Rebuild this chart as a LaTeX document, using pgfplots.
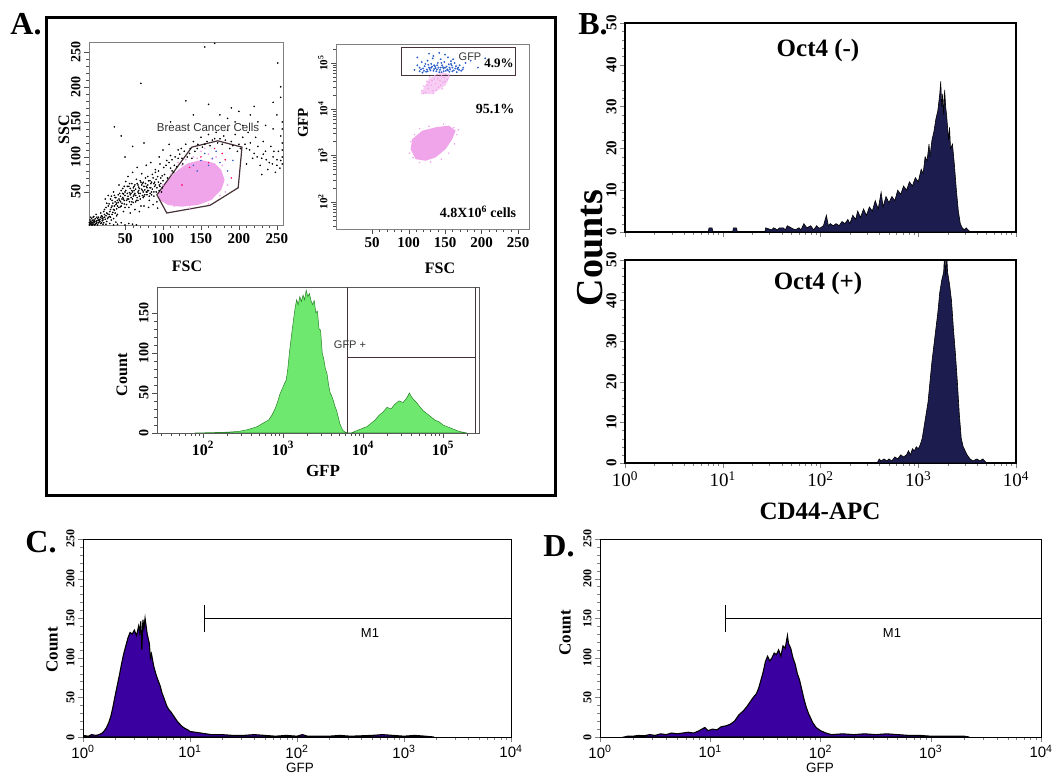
\documentclass[border=0pt]{standalone}
\usepackage{pgfplots}
\pgfplotsset{compat=1.18}
\usepackage{fontspec}
\setmainfont{Liberation Serif}
\setsansfont{Liberation Sans}
\newcommand\fs[1]{\fontsize{#1}{#1}\selectfont}
\definecolor{pinkc}{RGB}{240,165,235}
\definecolor{greenf}{RGB}{110,232,110}
\definecolor{greenl}{RGB}{40,130,40}
\definecolor{navy}{RGB}{28,28,78}
\definecolor{purp}{RGB}{58,0,160}
\definecolor{bluep}{RGB}{45,95,200}
\definecolor{gatec}{RGB}{70,50,55}
\pgfplotsset{
  base/.style={scale only axis, anchor=south west, tick align=outside, tick pos=left,
    major tick length=5pt, minor tick length=3pt,
    /pgf/number format/assume math mode=true},
  lmx/.style={minor xtick={0.301,0.477,0.602,0.699,0.778,0.845,0.903,0.954,
    1.301,1.477,1.602,1.699,1.778,1.845,1.903,1.954,
    2.301,2.477,2.602,2.699,2.778,2.845,2.903,2.954,
    3.301,3.477,3.602,3.699,3.778,3.845,3.903,3.954,
    4.301,4.477,4.602,4.699,4.778,4.845,4.903,4.954,
    5.301,5.477,5.602,5.699,5.778,5.845,5.903,5.954}},
  lmy/.style={minor ytick={1.477,1.602,1.699,1.778,1.845,1.903,1.954,
    2.301,2.477,2.602,2.699,2.778,2.845,2.903,2.954,
    3.301,3.477,3.602,3.699,3.778,3.845,3.903,3.954,
    4.301,4.477,4.602,4.699,4.778,4.845,4.903,4.954,
    5.301}},
  dot/.style={only marks, mark=*, mark size=0.55pt},
}
\begin{document}
\begin{tikzpicture}[x=1pt,y=1pt]
\path[use as bounding box] (0pt,0pt) rectangle (1062pt,779pt);
\draw[line width=3pt] (46pt,761pt) rectangle (555pt,283pt);

% ---------- A: SSC vs FSC
\begin{axis}[base, at={(89pt,554pt)}, width=194pt, height=183pt,
  xmin=2.6, xmax=258, ymin=2.9, ymax=264,
  xtick={50,100,150,200,250}, ytick={50,100,150,200,250},
  minor x tick num=4, minor y tick num=4,
  axis line style={gray}, tick style={gray!60!black},
  ticklabel style={font=\bfseries\fs{15}},
  yticklabel style={rotate=90, anchor=south, font=\bfseries\fs{14}}]
\addplot[dot, black, mark size=0.6pt] coordinates {
(4,4)(5,8)(6,3)(7,6)(8,10)(9,4)(10,7)(11,12)(12,5)(13,9)(14,3)(15,14)(16,7)(17,11)(18,5)
(19,16)(20,9)(21,13)(22,6)(23,18)(24,11)(25,4)(6,12)(9,15)(12,18)(15,6)(18,20)(21,4)(26,8)
(28,14)(30,5)(32,10)(35,3)(38,7)(40,4)(45,6)(50,3)(55,5)(60,4)(65,3)(5,5)(7,9)(10,3)(13,6)
(22,22)(25,28)(27,19)(29,33)(31,25)(33,38)(34,21)(36,30)(38,42)(39,26)(41,35)(43,48)(44,29)
(46,40)(47,55)(49,33)(50,45)(52,38)(53,58)(55,28)(56,49)(58,42)(59,62)(61,35)(62,52)(64,45)
(65,68)(67,38)(68,57)(70,48)(71,30)(73,62)(74,42)(76,53)(77,70)(79,46)(80,60)(82,38)(83,66)
(85,50)(86,75)(88,44)(89,58)(91,68)(92,36)(94,80)(95,52)(97,62)(99,73)(101,85)
(24,40)(28,45)(30,15)(35,50)(40,18)(42,60)(48,22)(51,65)(54,72)(57,20)(60,78)(63,25)(66,85)
(69,22)(72,76)(75,30)(78,88)(81,28)(84,92)(87,32)(90,82)(93,27)(96,90)(26,34)(32,44)(37,36)
(45,52)(48,47)(57,55)(60,50)(66,62)(70,66)(75,58)(80,72)(85,64)(90,78)(55,40)(62,58)(68,48)
(72,54)(78,50)(84,56)(44,36)(50,28)(58,32)(64,36)(35,25)(40,30)(47,42)(53,48)(59,52)(63,60)
(69,55)(74,64)(79,56)(83,48)(88,62)(36,45)(42,40)(49,58)(56,62)(61,44)(67,50)(73,45)(81,52)
(20,15)(23,25)(26,20)(28,30)(30,22)(32,28)(34,34)(36,24)(38,32)(40,38)(42,28)(44,44)(46,34)
(48,40)(50,50)(52,32)(54,44)(56,36)(58,48)(60,40)(62,46)(64,54)(66,42)(68,52)(70,40)(72,60)
(74,50)(76,46)(78,58)(80,52)(82,44)(84,62)(86,54)(88,50)(90,60)(92,56)(94,64)(96,58)(98,50)
(100,66)(31,40)(33,30)(37,42)(39,34)(41,46)(43,38)(45,30)(47,48)(49,38)(51,52)(53,40)(55,58)
(57,46)(59,36)(61,56)(63,48)(65,38)(67,60)(69,44)(71,64)(73,52)(75,44)(77,62)(79,50)(81,66)
(83,56)(85,46)(87,70)(89,64)(91,50)(93,72)(95,60)(97,70)(99,56)
(8,6)(10,10)(12,8)(14,12)(16,10)(18,14)(20,12)(11,4)(13,14)(15,10)(17,8)(19,6)(21,10)(23,14)
(25,16)(27,12)(29,18)(31,14)(33,18)(35,12)(37,20)(39,16)(3,6)(4,10)(5,14)(6,6)(7,3)(8,14)
(9,8)(3,3)(4,7)
(102,75)(104,88)(106,70)(108,92)(110,84)(112,96)(114,78)(116,100)(118,86)(120,98)(122,104)
(124,112)(126,90)(128,108)(132,100)(136,112)(138,98)(142,108)(146,118)(152,114)(158,122)
(162,116)(168,126)(172,120)(178,118)(182,124)(188,112)(192,116)(198,108)(202,112)(208,118)
(214,110)(218,98)(224,100)(232,104)(236,96)(244,90)(250,96)(254,84)(246,108)
(105,95)(110,102)(115,88)(120,110)(125,98)(130,118)(135,105)(140,122)(145,112)(150,128)
(155,118)(160,132)(165,124)(170,135)(175,126)(180,130)(185,138)(190,122)(195,132)(200,118)
(205,128)(210,112)(215,120)(220,105)(225,115)(230,98)(235,108)(240,92)(245,100)(250,88)
(255,95)(212,135)(222,128)(232,122)(242,115)(252,108)(228,88)(238,82)(248,78)(205,145)
(195,150)(185,155)(175,160)(215,160)(235,145)(245,140)(255,130)(225,150)(210,90)(230,75)
(155,257)(168,262)(71,205)(36,143)(251,234)(130,180)(140,160)(160,175)(190,170)(200,165)
(220,172)(245,178)(255,185)(110,150)(60,115)(50,100)(75,120)(45,130)(250,160)(255,200)
(257,120)(257,140)(257,110)(257,100)(257,150)(257,90)(100,110)(95,100)(108,118)(112,80)
};
\addplot[fill=pinkc, draw=none] coordinates {
(93.4,48.1)(106.6,67.1)(119.7,81.4)(132.9,91)(150.4,95.7)(168,91)(176.7,81.4)(181.2,67.1)
(176.7,52.9)(163.6,38.6)(146,31.4)(124.1,29)(106.6,31.4)(95.7,38.6)} -- cycle;
\addplot[dot, pinkc, mark size=0.7pt] coordinates {
(140,100)(150,108)(160,104)(130,96)(120,92)(170,100)(155,112)(145,98)(100,60)(98,45)
(110,75)(185,60)(182,50)(175,45)(115,30)(135,27)(160,33)(125,88)(165,97)(178,88)};
\addplot[dot, bluep] coordinates {
(155,105)(165,98)(150,95)(175,92)(160,88)(140,88)(185,80)(170,108)(145,80)(192,95)};
\addplot[dot, red!60!magenta] coordinates {
(168,112)(178,105)(160,92)(135,85)(190,70)(150,100)(182,96)(125,60)};
\addplot[gatec, line width=1.2pt] coordinates {
(92,46)(105,20)(162,31)(199,56)(204,114)(172,123)(138,114)} -- cycle;
\end{axis}

% ---------- A: GFP vs FSC
\begin{axis}[base, lmy, at={(336pt,550pt)}, width=193pt, height=185pt,
  xmin=0.5, xmax=265, ymin=1.41, ymax=5.41,
  xtick={50,100,150,200,250}, minor x tick num=4,
  ytick={2,3,4,5}, yticklabels={10\textsuperscript{2},10\textsuperscript{3},10\textsuperscript{4},10\textsuperscript{5}},
  axis line style={gray}, tick style={gray!60!black},
  xticklabel style={font=\bfseries\fs{15}},
  yticklabel style={rotate=90, anchor=south, font=\bfseries\fs{11}}]
\addplot[fill=pinkc, draw=none] coordinates {
(105,3.354)(118.8,3.536)(137,3.609)(155.2,3.645)(164.4,3.536)(159.9,3.354)(150.7,3.137)
(137,2.957)(123.3,2.885)(109.6,2.92)(102.7,3.137)} -- cycle;
\addplot[dot, pinkc] coordinates {
(103,3.3)(101,3.05)(108,3.45)(115,3.58)(128,3.63)(148,3.68)(162,3.6)(166,3.45)(163,3.25)
(155,3.05)(145,2.92)(130,2.86)(115,2.85)(106,2.95)(168,3.55)};
\addplot[fill=pinkc!55!white, draw=none] coordinates {
(116.4,4.333)(127.8,4.659)(146,4.804)(157.5,4.733)(150.7,4.515)(132.4,4.333)} -- cycle;
\addplot[dot, pinkc] coordinates {
(118,4.40)(121,4.5)(123,4.36)(125,4.6)(127,4.45)(129,4.7)(131,4.52)(133,4.4)(135,4.65)
(137,4.55)(139,4.75)(141,4.48)(143,4.62)(145,4.72)(147,4.58)(149,4.68)(151,4.76)(153,4.64)
(155,4.74)(126,4.52)(132,4.62)(138,4.42)(144,4.52)(150,4.6)(120,4.34)(134,4.34)(146,4.44)
(140,4.66)(128,4.58)(136,4.72)};
\addplot[dot, bluep, mark size=0.7pt] coordinates {
(108,4.85)(112,4.95)(115,4.82)(118,5.02)(120,4.88)(122,4.93)(124,4.81)(126,5.05)(128,4.9)
(130,4.84)(131,4.98)(133,5.1)(135,4.87)(136,4.93)(138,4.82)(140,5.0)(141,4.9)(143,4.85)
(144,5.08)(146,4.95)(148,4.88)(149,5.02)(151,4.83)(152,4.92)(154,5.12)(155,4.97)(157,4.86)
(158,5.04)(160,4.9)(162,4.84)(163,5.0)(165,4.93)(167,4.87)(170,4.95)(172,4.83)(175,4.9)
(178,5.0)(119,4.79)(127,4.96)(134,5.15)(139,4.95)(145,4.8)(150,5.18)(156,4.81)(161,5.08)
(166,4.8)(128,5.2)(142,5.22)(112,5.12)(185,5.05)(195,4.9)(205,5.1)(115,4.9)(125,4.86)
(137,4.89)(147,4.91)(153,4.86)(159,4.95)(132,4.92)(123,4.98)(117,4.86)(121,4.83)(129,4.87)
(134,4.83)(139,4.86)(144,4.9)(150,4.9)(156,4.9)(164,4.88)(169,4.85)(174,4.86)(126,4.82)
(131,4.9)(142,4.8)(148,4.82)(154,4.84)(160,4.82)(168,4.9)(135,4.95)(145,5.0)(158,4.98)};
\addplot[gatec, line width=1pt] coordinates {(90,4.72)(247,4.72)(247,5.33)(90,5.33)} -- cycle;
\end{axis}

% ---------- A: GFP histogram
\begin{axis}[base, lmx, at={(157pt,346pt)}, width=322pt, height=146pt,
  xmin=1.425, xmax=5.45, ymin=0, ymax=182,
  xtick={2,3,4,5}, xticklabels={10\textsuperscript{2},10\textsuperscript{3},10\textsuperscript{4},10\textsuperscript{5}},
  ytick={0,50,100,150}, minor y tick num=4,
  axis line style={gray!70!black}, tick style={gray!60!black},
  xticklabel style={font=\bfseries\fs{16}},
  yticklabel style={rotate=90, anchor=south, font=\bfseries\fs{14}}]
\addplot[fill=greenf, draw=greenl, line width=0.5pt] coordinates {
(1.9,0)(2.1,0.5)(2.3,1)(2.45,2)(2.55,4)(2.62,6)(2.68,8)(2.73,11)(2.78,14)(2.82,16)(2.86,22)
(2.9,30)(2.93,38)(2.96,48)(2.99,55)(3.02,62)(3.04,66)(3.06,80)(3.08,100)(3.09,108)(3.11,125)
(3.13,140)(3.15,155)(3.17,166)(3.19,160)(3.21,170)(3.23,164)(3.25,172)(3.27,166)(3.29,178)
(3.31,170)(3.33,174)(3.35,165)(3.37,160)(3.39,165)(3.41,150)(3.43,152)(3.45,130)(3.47,128)
(3.49,100)(3.51,92)(3.53,80)(3.55,74)(3.57,60)(3.59,50)(3.61,46)(3.63,40)(3.65,33)(3.67,28)
(3.69,20)(3.71,12)(3.73,7)(3.75,3)(3.78,1)(3.81,0)(3.85,0)(3.9,2)(3.95,4)(4.0,6)(4.05,8)
(4.1,12)(4.15,16)(4.2,22)(4.25,26)(4.3,32)(4.35,30)(4.4,36)(4.45,40)(4.5,38)(4.55,44)
(4.58,50)(4.6,46)(4.63,42)(4.67,38)(4.7,34)(4.75,28)(4.8,24)(4.85,20)(4.9,16)(4.95,14)
(5.0,10)(5.05,8)(5.1,6)(5.15,4)(5.2,2)(5.25,1)(5.3,0)} \closedcycle;
\addplot[gatec, line width=0.8pt] coordinates {(3.81,0)(3.81,182)};
\addplot[gatec, line width=0.8pt] coordinates {(3.81,94)(5.41,94)};
\addplot[gatec, line width=0.8pt] coordinates {(5.41,0)(5.41,182)};
\end{axis}

% ---------- B: Oct4 (-)
\begin{axis}[base, lmx, at={(625pt,547pt)}, width=391pt, height=209pt,
  xmin=0, xmax=4, ymin=0, ymax=50,
  xtick={0,1,2,3,4}, xticklabels={},
  ytick={0,10,20,30,40,50}, minor y tick num=4,
  axis line style={black, line width=1.3pt},
  yticklabel style={rotate=90, anchor=south, font=\bfseries\fs{15}}]
\addplot[fill=navy, draw=black, line width=0.6pt] coordinates {
(0,0)(0.85,0)(0.86,1)(0.89,1)(0.9,0)(1.1,0)(1.11,1)(1.14,1)(1.15,0)(1.43,0)(1.44,1)(1.5,0.5)
(1.52,1)(1.56,0.5)(1.58,1)(1.62,1)(1.64,0.5)(1.66,1.5)(1.7,1)(1.74,0.5)(1.78,1)(1.8,0.5)
(1.83,2)(1.86,1)(1.9,1.5)(1.93,0.5)(1.96,1.5)(1.98,1)(2.0,1)(2.03,1.5)(2.06,4)(2.08,1.5)
(2.1,2)(2.13,1.5)(2.16,2)(2.19,1.5)(2.22,2.5)(2.25,2)(2.28,3)(2.3,2)(2.33,4)(2.36,3)(2.38,5)
(2.41,3.5)(2.44,5.5)(2.47,4)(2.5,6)(2.53,5)(2.56,7.5)(2.59,5.5)(2.62,9.5)(2.64,6)(2.67,8.5)
(2.7,7)(2.73,8.5)(2.76,7.5)(2.79,10)(2.82,9)(2.85,11)(2.88,10)(2.91,12)(2.94,11)(2.97,13)
(3.0,12)(3.03,15)(3.05,14)(3.07,18)(3.09,17)(3.11,21)(3.12,18)(3.14,22)(3.16,24)(3.18,27)
(3.2,29)(3.22,33)(3.23,36)(3.24,30)(3.25,33)(3.26,28)(3.27,34)(3.28,30)(3.29,28)(3.31,22)
(3.32,25)(3.33,20)(3.35,21)(3.37,16)(3.39,10)(3.41,5)(3.43,2)(3.45,1)(3.47,0.5)(3.49,1)
(3.51,0.5)(3.53,0)(4,0)} \closedcycle;
\end{axis}

% ---------- B: Oct4 (+)
\begin{axis}[base, lmx, at={(625pt,316pt)}, width=391pt, height=203pt,
  xmin=0, xmax=4, ymin=0, ymax=50,
  xtick={0,1,2,3,4}, xticklabels={10\textsuperscript{0},10\textsuperscript{1},10\textsuperscript{2},10\textsuperscript{3},10\textsuperscript{4}},
  ytick={0,10,20,30,40,50}, minor y tick num=4,
  axis line style={black, line width=1.3pt},
  xticklabel style={font=\fs{19}},
  yticklabel style={rotate=90, anchor=south, font=\bfseries\fs{15}}]
\addplot[fill=navy, draw=black, line width=0.6pt] coordinates {
(0,0)(2.58,0)(2.6,1)(2.62,0.5)(2.65,1)(2.68,0.5)(2.7,1)(2.73,0.5)(2.76,1.5)(2.79,1)(2.82,2)
(2.85,1.5)(2.88,2)(2.9,3)(2.92,2)(2.94,3.5)(2.96,3)(2.98,4)(3.0,3.5)(3.02,4.5)(3.04,6)
(3.06,9)(3.08,12)(3.1,15)(3.12,20)(3.14,25)(3.16,29)(3.18,33)(3.2,37)(3.22,42)(3.24,45)
(3.26,47)(3.27,52)(3.28,46)(3.29,52)(3.3,47)(3.32,44)(3.34,40)(3.36,33)(3.38,27)(3.4,20)
(3.42,12)(3.44,6)(3.46,4)(3.48,3)(3.5,2)(3.53,1)(3.56,0.5)(3.6,1)(3.63,0.5)(3.66,1)(3.7,0)
(4,0)} \closedcycle;
\end{axis}

% ---------- C
\begin{axis}[base, lmx, at={(83pt,42pt)}, width=428pt, height=198pt,
  xmin=0, xmax=4, ymin=0, ymax=250,
  xtick={0,1,2,3,4}, xticklabels={10\textsuperscript{0},10\textsuperscript{1},10\textsuperscript{2},10\textsuperscript{3},10\textsuperscript{4}},
  ytick={0,50,100,150,200,250}, minor y tick num=4,
  axis line style={black, line width=0.9pt},
  xticklabel style={font=\sffamily\fs{15}},
  yticklabel style={rotate=90, anchor=south, font=\bfseries\fs{12}}]
\addplot[fill=purp, draw=black, line width=1.1pt] coordinates {
(0,2)(0.05,1)(0.08,3)(0.12,2)(0.15,3)(0.18,5)(0.2,8)(0.22,12)(0.24,18)(0.26,26)(0.28,38)
(0.3,52)(0.32,65)(0.34,78)(0.36,92)(0.38,105)(0.4,115)(0.42,125)(0.44,132)(0.46,130)
(0.48,135)(0.5,128)(0.52,140)(0.53,132)(0.54,146)(0.55,110)(0.56,148)(0.57,138)(0.58,150)
(0.6,130)(0.62,118)(0.63,100)(0.64,105)(0.66,90)(0.68,80)(0.7,72)(0.72,65)(0.74,55)(0.76,48)
(0.78,40)(0.8,35)(0.82,32)(0.84,28)(0.86,24)(0.88,20)(0.9,17)(0.92,14)(0.95,11)(0.98,9)
(1.0,7)(1.05,6)(1.1,5)(1.15,4)(1.2,3)(1.3,3)(1.4,2)(1.5,2)(1.6,3)(1.7,2)(1.8,1)(1.9,2)
(2.0,1)(2.05,3)(2.1,1)(2.3,1)(2.4,2)(2.5,1)(2.7,2)(2.8,3)(2.9,2)(3.0,1)(3.1,2)(3.2,1)
(3.28,0)} \closedcycle;
\addplot[black, line width=1pt] coordinates {(1.14,133)(1.14,167)};
\addplot[black, line width=1pt] coordinates {(1.14,150)(4,150)};
\end{axis}

% ---------- D
\begin{axis}[base, lmx, at={(600pt,42pt)}, width=441pt, height=198pt,
  xmin=0, xmax=4, ymin=0, ymax=250,
  xtick={0,1,2,3,4}, xticklabels={10\textsuperscript{0},10\textsuperscript{1},10\textsuperscript{2},10\textsuperscript{3},10\textsuperscript{4}},
  ytick={0,50,100,150,200,250}, minor y tick num=4,
  axis line style={black, line width=0.9pt},
  xticklabel style={font=\sffamily\fs{15}},
  yticklabel style={rotate=90, anchor=south, font=\bfseries\fs{12}}]
\addplot[fill=purp, draw=black, line width=1.1pt] coordinates {
(0.22,0)(0.25,1)(0.3,1)(0.35,2)(0.4,1.5)(0.45,3)(0.5,2)(0.55,4)(0.6,3)(0.65,5)(0.7,4)
(0.75,5)(0.8,6)(0.85,5)(0.9,8)(0.95,12)(0.98,8)(1.02,10)(1.06,9)(1.1,13)(1.14,14)(1.18,16)
(1.22,20)(1.26,28)(1.3,33)(1.33,38)(1.36,44)(1.39,50)(1.42,55)(1.44,62)(1.46,72)(1.48,82)
(1.5,95)(1.52,102)(1.54,96)(1.56,100)(1.58,106)(1.6,104)(1.62,110)(1.64,102)(1.66,115)
(1.68,112)(1.7,128)(1.71,118)(1.73,112)(1.75,100)(1.77,92)(1.79,80)(1.81,72)(1.83,60)
(1.85,48)(1.87,38)(1.89,30)(1.91,24)(1.93,18)(1.96,12)(2.0,8)(2.05,5)(2.1,3)(2.2,4)(2.3,3)
(2.4,4)(2.5,3)(2.6,4)(2.7,3)(2.8,2)(2.9,2)(3.0,1)(3.1,1)(3.3,1)(3.35,0)} \closedcycle;
\addplot[black, line width=1pt] coordinates {(1.14,133)(1.14,167)};
\addplot[black, line width=1pt] coordinates {(1.14,150)(4,150)};
\end{axis}

% ---------- labels
\node[font=\bfseries\fs{32}] at (26pt,755pt) {A.};
\node[font=\bfseries\fs{32}] at (593pt,755pt) {B.};
\node[font=\bfseries\fs{32}] at (41pt,237pt) {C.};
\node[font=\bfseries\fs{32}] at (559pt,233pt) {D.};
\node[rotate=90, font=\bfseries\fs{16}] at (64pt,649pt) {SSC};
\node[font=\bfseries\fs{16}] at (187pt,513pt) {FSC};
\node[font=\sffamily\fs{11.5}, text=black!80] at (208pt,652pt) {Breast Cancer Cells};
\node[rotate=90, font=\bfseries\fs{15}] at (303pt,656pt) {GFP};
\node[font=\bfseries\fs{16}] at (440pt,511pt) {FSC};
\node[font=\sffamily\fs{11}, text=black!80] at (470pt,722pt) {GFP};
\node[font=\bfseries\fs{13}] at (499pt,716pt) {4.9\%};
\node[font=\bfseries\fs{14}] at (495pt,670pt) {95.1\%};
\node[font=\bfseries\fs{14}] at (478pt,567pt) {4.8X10\textsuperscript{6} cells};
\node[rotate=90, font=\bfseries\fs{16}] at (122pt,404pt) {Count};
\node[font=\bfseries\fs{17}] at (323pt,308pt) {GFP};
\node[font=\sffamily\fs{11}, text=black!80] at (350pt,434pt) {GFP +};
\node[font=\bfseries\fs{25}] at (818pt,729pt) {Oct4 (-)};
\node[font=\bfseries\fs{25}] at (818pt,496pt) {Oct4 (+)};
\node[rotate=90, font=\bfseries\fs{38}] at (590pt,531pt) {Counts};
\node[font=\bfseries\fs{25}] at (820pt,268pt) {CD44-APC};
\node[rotate=90, font=\bfseries\fs{17}] at (52pt,129pt) {Count};
\node[font=\sffamily\fs{13.5}] at (300pt,11pt) {GFP};
\node[font=\sffamily\fs{13}] at (370pt,146pt) {M1};
\node[rotate=90, font=\bfseries\fs{17}] at (565pt,146pt) {Count};
\node[font=\sffamily\fs{13.5}] at (820pt,11pt) {GFP};
\node[font=\sffamily\fs{13}] at (892pt,146pt) {M1};
\end{tikzpicture}
\end{document}
